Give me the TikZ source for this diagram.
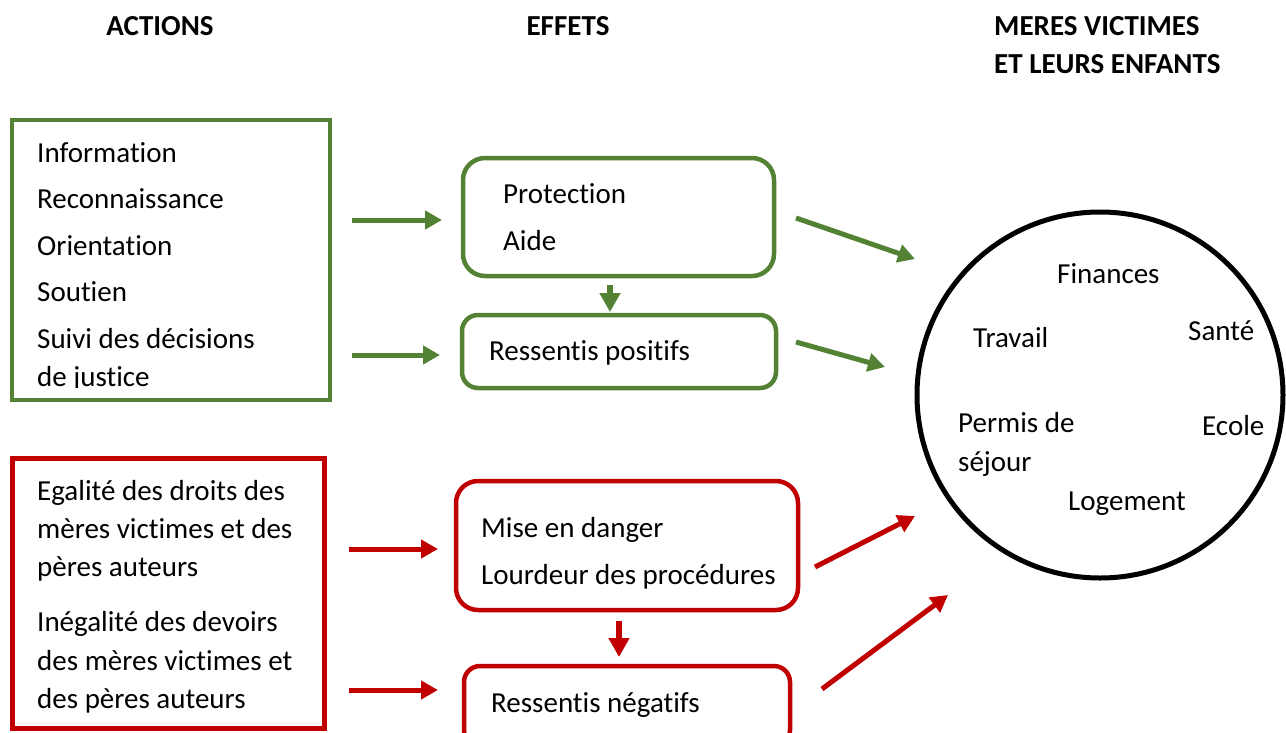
\documentclass[tikz,border=0pt]{standalone}
\usepackage{fontspec}
\setmainfont{Carlito}[Ligatures=NoCommon]
\usetikzlibrary{arrows.meta}
\definecolor{gr}{HTML}{548235}
\definecolor{rd}{HTML}{C00000}
\begin{document}
\begin{tikzpicture}[x=1pt,y=-1pt,
  txt/.style={anchor=base west,inner sep=0pt,font=\fontsize{29}{35}\selectfont},
  hdr/.style={anchor=base,inner sep=0pt,font=\fontsize{29}{35}\selectfont\bfseries},
  sqbox/.style={draw,rectangle,inner sep=0pt,outer sep=0pt},
  rbx/.style={draw,rectangle,rounded corners=#1,inner sep=0pt,outer sep=0pt,line width=4.5pt},
  arr/.style={line width=5pt,-{Triangle[length=17pt,width=18pt]}},
  darr/.style={line width=6.5pt,-{Triangle[length=19pt,width=20pt]}}]
\path[use as bounding box] (0,0) rectangle (1286,732);
% headers
\node[hdr] (h1) at (160,35) {ACTIONS};
\node[hdr] (h2) at (568,35) {EFFETS};
\node[hdr,anchor=base west] (h3) at (994,35) {MERES VICTIMES};
\node[hdr,anchor=base west] (h4) at (994,73) {ET LEURS ENFANTS};
% green boxes
\node[sqbox,draw=gr,line width=4pt,minimum width=318pt,minimum height=280pt] (gbox) at (171,260) {};
\node[rbx=22pt,draw=gr,minimum width=311pt,minimum height=118pt] (gprot) at (618.5,217) {};
\node[rbx=16pt,draw=gr,minimum width=314pt,minimum height=73pt] (gpos) at (619,351.5) {};
% red boxes
\node[sqbox,draw=rd,line width=5pt,minimum width=312pt,minimum height=270pt] (rbox) at (168,593) {};
\node[rbx=22pt,draw=rd,minimum width=342pt,minimum height=129pt] (rdang) at (627,545.5) {};
\node[rbx=16pt,draw=rd,minimum width=326pt,minimum height=80pt] (rneg) at (627,706) {};
% circle
\node[draw,circle,line width=5pt,minimum size=366pt,inner sep=0pt] (circ) at (1100,395) {};
% texts green
\node[txt] (t1) at (37,162) {Information};
\node[txt] (t2) at (37,208) {Reconnaissance};
\node[txt] (t3) at (37,255) {Orientation};
\node[txt] (t4) at (37,301) {Soutien};
\node[txt] (t5) at (37,348) {Suivi des décisions};
\begin{scope}
\clip (20,360) rectangle (320,387);
\node[txt] (t6) at (37,386) {de justice};
\end{scope}
\node[txt] (t7) at (503,203) {Protection};
\node[txt] (t8) at (503,250) {Aide};
\node[txt] (t9) at (489,360) {Ressentis positifs};
% texts red
\node[txt] (r1) at (37,500) {Egalité des droits des};
\node[txt] (r2) at (37,538) {mères victimes et des};
\node[txt] (r3) at (37,576) {pères auteurs};
\node[txt] (r4) at (37,631) {Inégalité des devoirs};
\node[txt] (r5) at (37,670) {des mères victimes et};
\node[txt] (r6) at (37,708) {des pères auteurs};
\node[txt] (r7) at (481,537) {Mise en danger};
\node[txt] (r8) at (481,584) {Lourdeur des procédures};
\node[txt] (r9) at (491,712) {Ressentis négatifs};
% circle texts
\node[txt] (c1) at (1057,283) {Finances};
\node[txt] (c2) at (1188,340) {Santé};
\node[txt] (c3) at (973,347) {Travail};
\node[txt] (c4) at (958,432) {Permis de};
\node[txt] (c5) at (958,471) {séjour};
\node[txt] (c6) at (1202,435) {Ecole};
\node[txt] (c7) at (1068,510) {Logement};
% arrow end coordinates
\coordinate (ga1s) at (352,220); \coordinate (ga1e) at (442,220);
\coordinate (ga2s) at (352,355); \coordinate (ga2e) at (440,355);
\coordinate (ga3s) at (610,285); \coordinate (ga3e) at (610,312);
\coordinate (ga4s) at (796,218); \coordinate (ga4e) at (915,259);
\coordinate (ga5s) at (796,342); \coordinate (ga5e) at (885,367);
\coordinate (ra1s) at (349,549); \coordinate (ra1e) at (438,549);
\coordinate (ra2s) at (349,690); \coordinate (ra2e) at (438,690);
\coordinate (ra3s) at (619,621); \coordinate (ra3e) at (619,657);
\coordinate (ra4s) at (815,567); \coordinate (ra4e) at (915,516);
\coordinate (ra5s) at (822,689); \coordinate (ra5e) at (948,595);
\draw[arr,gr] (ga1s) -- (ga1e);
\draw[arr,gr] (ga2s) -- (ga2e);
\draw[darr,gr] (ga3s) -- (ga3e);
\draw[arr,gr] (ga4s) -- (ga4e);
\draw[arr,gr] (ga5s) -- (ga5e);
\draw[arr,rd] (ra1s) -- (ra1e);
\draw[arr,rd] (ra2s) -- (ra2e);
\draw[darr,rd] (ra3s) -- (ra3e);
\draw[arr,rd] (ra4s) -- (ra4e);
\draw[arr,rd] (ra5s) -- (ra5e);
\end{tikzpicture}
\end{document}
